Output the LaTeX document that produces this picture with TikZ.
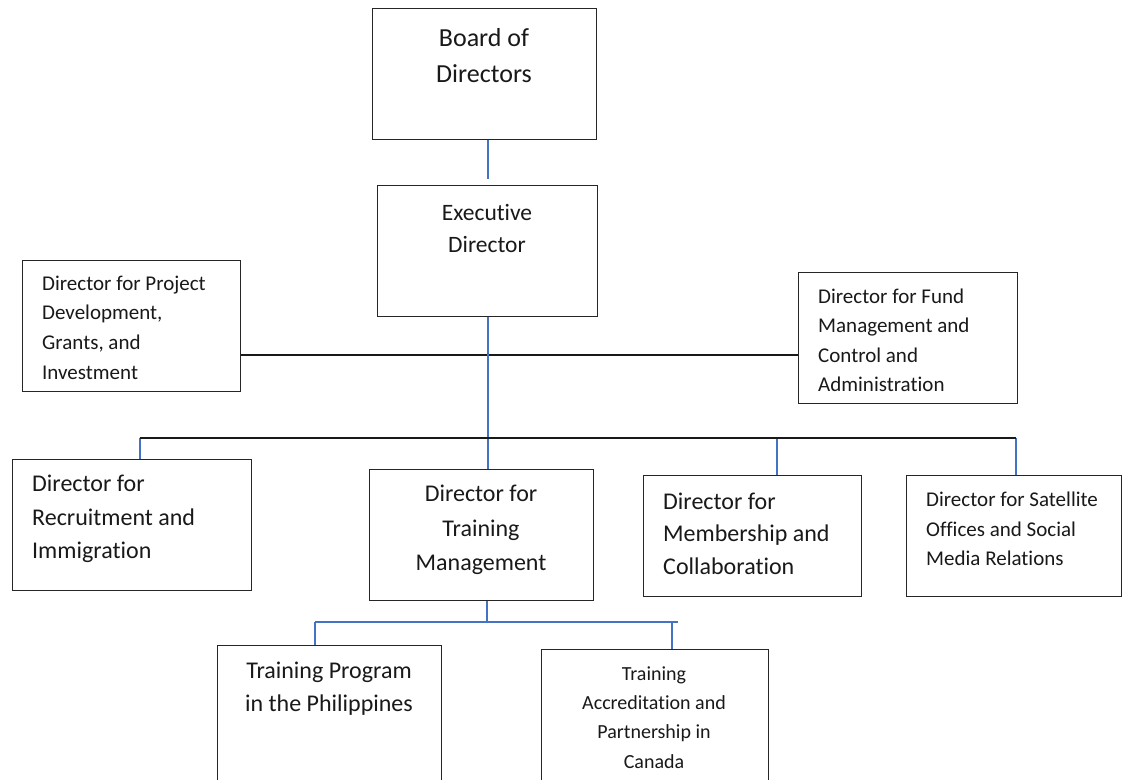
\documentclass[tikz,border=0pt]{standalone}
\usepackage{fontspec}
\setmainfont[Ligatures={NoCommon}]{Carlito}
\newcommand\fsz[2]{\fontsize{#1}{#2}\selectfont}
\definecolor{wordblue}{HTML}{4472C4}
\begin{document}
\begin{tikzpicture}[x=1pt,y=-1pt,
  box/.style={draw=black!85,line width=1.3pt,rectangle,inner sep=0pt,anchor=north west},
  txt/.style={inner sep=0pt,text=black!90},
  bl/.style={draw=wordblue,line width=1.1pt},
  bk/.style={draw=black!90,line width=1.3pt}]
\useasboundingbox (0,0) rectangle (1123,779);
\clip (0,0) rectangle (1123,779);
\fill[white] (0,0) rectangle (1123,779);
% boxes
\node[box,minimum width=224pt,minimum height=131pt] (board) at (372,8) {};
\node[box,minimum width=220pt,minimum height=131pt] (exec) at (377,185) {};
\node[box,minimum width=218pt,minimum height=131pt] (proj) at (22,260) {};
\node[box,minimum width=219pt,minimum height=131pt] (fund) at (798,272) {};
\node[box,minimum width=239pt,minimum height=131pt] (rec) at (12,459) {};
\node[box,minimum width=224pt,minimum height=131pt] (tm) at (369,469) {};
\node[box,minimum width=218pt,minimum height=121pt] (mem) at (643,475) {};
\node[box,minimum width=215pt,minimum height=121pt] (sat) at (906,475) {};
\node[box,minimum width=224pt,minimum height=170pt] (phil) at (217,645) {};
\node[box,minimum width=227pt,minimum height=170pt] (can) at (541,649) {};
% texts
\node[txt,anchor=north,align=center,font=\fsz{26}{36}] (boardT) at (484,20.8) {\strut Board of\\Directors};
\node[txt,anchor=north,align=center,font=\fsz{23.5}{32}] (execT) at (487,197.6) {\strut Executive\\Director};
\node[txt,anchor=north west,align=left,font=\fsz{21}{29.7}] (projT) at (42,269.2) {\strut Director for Project\\Development,\\Grants, and\\Investment};
\node[txt,anchor=north west,align=left,font=\fsz{21}{29.5}] (fundT) at (818,282.6) {\strut Director for Fund\\Management and\\Control and\\Administration};
\node[txt,anchor=north west,align=left,font=\fsz{24}{33.3}] (recT) at (32,468.4) {\strut Director for\\Recruitment and\\Immigration};
\node[txt,anchor=north,align=center,font=\fsz{24}{34.2}] (tmT) at (481,477.8) {\strut Director for\\Training\\Management};
\node[txt,anchor=north west,align=left,font=\fsz{24}{32.5}] (memT) at (663,486.5) {\strut Director for\\Membership and\\Collaboration};
\node[txt,anchor=north west,align=left,font=\fsz{21}{29.2}] (satT) at (926,486.3) {\strut Director for Satellite\\Offices and Social\\Media Relations};
\node[txt,anchor=north,align=center,font=\fsz{24}{33.4}] (philT) at (329,655) {\strut Training Program\\in the Philippines};
\node[txt,anchor=north,align=center,font=\fsz{20}{29.3}] (canT) at (654,659.5) {\strut Training\\Accreditation and\\Partnership in\\Canada};
% connectors
\coordinate (v0) at (488,0);
\draw[bl] (v0 |- board.south) -- ([yshift=6pt]v0 |- exec.north);
\coordinate (h1) at (0,355);
\draw[bk] (proj.east |- h1) -- (fund.west |- h1);
\coordinate (b1) at (140,438);
\coordinate (b2) at (777,438);
\coordinate (b3) at (1016,438);
\draw[bl] (v0 |- exec.south) -- (v0 |- tm.north);
\draw[bl] (b1) -- (b1 |- rec.north);
\draw[bl] (b2) -- (b2 |- mem.north);
\draw[bl] (b3) -- (b3 |- sat.north);
\draw[bk] (b1) -- (b3);
\coordinate (t0) at (487,622);
\coordinate (t1) at (315,622);
\coordinate (t2) at (672,622);
\coordinate (t3) at (678,622);
\draw[bl] (t0 |- tm.south) -- (t0);
\draw[bl] (t1) -- (t3);
\draw[bl] (t1) -- (t1 |- phil.north);
\draw[bl] (t2) -- (t2 |- can.north);
\end{tikzpicture}
\end{document}
